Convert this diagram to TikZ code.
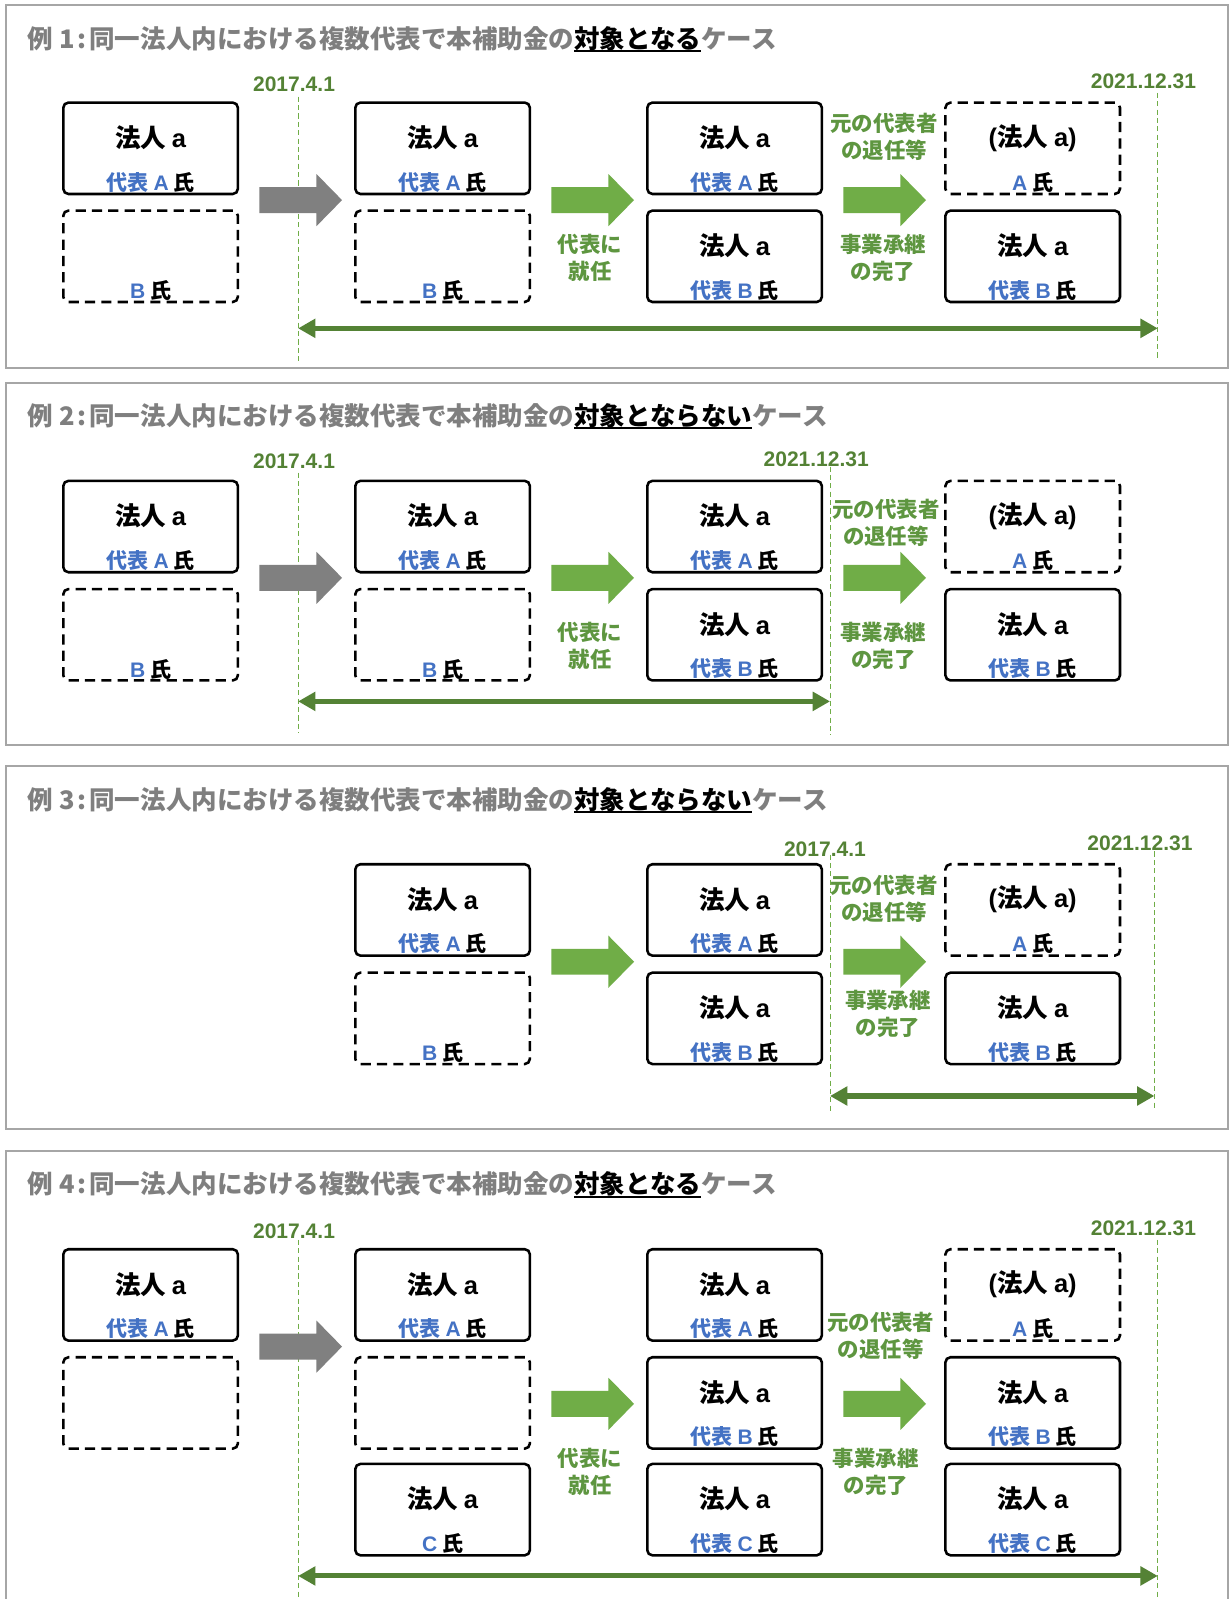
\documentclass[tikz,border=0pt]{standalone}
\usepackage{fontspec}
\setmainfont{Noto Sans CJK JP}
\newfontfamily\lat{Liberation Sans}
\usetikzlibrary{arrows.meta}
\definecolor{tgray}{HTML}{7F7F7F}
\definecolor{agray}{HTML}{808080}
\definecolor{pgray}{HTML}{A6A6A6}
\definecolor{lgreen}{HTML}{70AD47}
\definecolor{dgreen}{HTML}{548235}
\definecolor{lblgreen}{HTML}{5E9640}
\definecolor{blu}{HTML}{4472C4}
\newcommand\hj{法人 {\lat a}}
\newcommand\pmain{{\lat (}法人 {\lat a)}}
\newcommand\repr[1]{\textcolor{blu}{代表 {\lat #1}} 氏}
\newcommand\pwho[1]{\textcolor{blu}{\lat #1} 氏}
\newcommand\ulk[1]{{\color{black}\setbox0=\hbox{#1}\rlap{\rule[-1.9pt]{\wd0}{1pt}}\box0}}
\newcommand\ex[1]{例 #1\hspace{0.12em}:\hspace{0.1em}}
\newcommand\corp[6]{%
  \node[#2] (#1) at (#3+85.5,#4+44.75) {};
  \node[maintxt] (#1m) at (#3+85.5,#4+34.5) {#5};
  \node[subtxt] (#1s) at (#3+85.5,#4+78) {#6};}
\newcommand\vac[4]{%
  \node[corpd] (#1) at (#2+85.5,#3+44.75) {};
  \node[subtxt] (#1s) at (#2+85.5,#3+78.5) {#4};}
\newcommand\vacant[3]{%
  \node[corpd] (#1) at (#2+85.5,#3+44.75) {};}
\newcommand\blockarrow[3]{%
  \fill[#1] (#2,#3) ++(0,-12.7) -- ++(56,0) -- ++(0,-12.8) -- ++(25,25.5) -- ++(-25,25.5) -- ++(0,-12.8) -- ++(-56,0) -- cycle;}
\begin{document}
\begin{tikzpicture}[x=0.5pt,y=-0.5pt,
  corp/.style={draw=black, line width=1.25pt, rounded corners=2.5pt, minimum width=85.5pt, minimum height=44.75pt, inner sep=0pt},
  corpd/.style={corp, dash pattern=on 5pt off 3pt},
  maintxt/.style={font=\fontsize{12.5pt}{15pt}\selectfont\bfseries, inner sep=0pt},
  subtxt/.style={font=\fontsize{10.3pt}{12pt}\selectfont\bfseries, inner sep=0pt},
  datetxt/.style={font=\lat\fontsize{10.3pt}{12pt}\selectfont\bfseries, text=dgreen, inner sep=0pt},
  lbl/.style={font=\fontsize{10.5pt}{13.2pt}\selectfont\bfseries, text=lblgreen, align=center, inner sep=0pt},
  vline/.style={draw=lgreen, line width=0.5pt, dash pattern=on 2.5pt off 1.6pt},
  spanarrow/.style={draw=dgreen, line width=2.5pt, {Triangle[length=8.5pt,width=9pt]}-{Triangle[length=8.5pt,width=9pt]}},
  panel/.style={draw=pgray, line width=1pt},
  title/.style={font=\fontsize{12.5pt}{15pt}\selectfont\bfseries, text=tgray, anchor=west, inner sep=0pt}]
\useasboundingbox (0,0) rectangle (1205.6,1566.2);
\fill[white] (0,0) rectangle (1205.6,1566.2);
% ---------- panels ----------
\draw[panel] (6,5) rectangle (1203,360);
\draw[panel] (6,375) rectangle (1203,730);
\draw[panel] (6,750) rectangle (1203,1106);
\draw[panel] (6,1127) rectangle (1203,1600);
% ---------- panel 1 ----------
\node[title] (t1) at (27,38.5) {\ex{1}同一法人内における複数代表で本補助金の\ulk{対象となる}ケース};
\node[datetxt] (p1d1) at (288,83) {2017.4.1};
\node[datetxt] (p1d2) at (1120,79.3) {2021.12.31};
\coordinate (p1v1t) at (292,94.7); \coordinate (p1v1b) at (292,356);
\coordinate (p1v2t) at (1134,91); \coordinate (p1v2b) at (1134,352);
\draw[vline] (p1v1t) -- (p1v1b);
\draw[vline] (p1v2t) -- (p1v2b);
\corp{p1c1a}{corp}{62}{100.5}{\hj}{\repr{A}}
\vac{p1c1b}{62}{206.3}{\pwho{B}}
\corp{p1c2a}{corp}{348}{100.5}{\hj}{\repr{A}}
\vac{p1c2b}{348}{206.3}{\pwho{B}}
\corp{p1c3a}{corp}{634}{100.5}{\hj}{\repr{A}}
\corp{p1c3b}{corp}{634}{206.3}{\hj}{\repr{B}}
\corp{p1c4a}{corpd}{926}{100.5}{\pmain}{\pwho{A}}
\corp{p1c4b}{corp}{926}{206.3}{\hj}{\repr{B}}
\blockarrow{agray}{254}{196}
\blockarrow{lgreen}{540}{196}
\blockarrow{lgreen}{826}{196}
\node[lbl] (p1l1) at (578,253) {代表に\\就任};
\node[lbl] (p1l2) at (866,134.3) {元の代表者\\の退任等};
\node[lbl] (p1l3) at (865,252.2) {事業承継\\の完了};
\coordinate (p1sa) at (292,321.6); \coordinate (p1sb) at (1134,321.6);
\draw[spanarrow] (p1sa) -- (p1sb);
% ---------- panel 2 ----------
\node[title] (t2) at (27,408) {\ex{2}同一法人内における複数代表で本補助金の\ulk{対象とならない}ケース};
\node[datetxt] (p2d1) at (288,452) {2017.4.1};
\node[datetxt] (p2d2) at (799.5,450) {2021.12.31};
\coordinate (p2v1t) at (292,463); \coordinate (p2v1b) at (292,718);
\coordinate (p2v2t) at (813,457); \coordinate (p2v2b) at (813,720);
\draw[vline] (p2v1t) -- (p2v1b);
\draw[vline] (p2v2t) -- (p2v2b);
\corp{p2c1a}{corp}{62}{471}{\hj}{\repr{A}}
\vac{p2c1b}{62}{577}{\pwho{B}}
\corp{p2c2a}{corp}{348}{471}{\hj}{\repr{A}}
\vac{p2c2b}{348}{577}{\pwho{B}}
\corp{p2c3a}{corp}{634}{471}{\hj}{\repr{A}}
\corp{p2c3b}{corp}{634}{577}{\hj}{\repr{B}}
\corp{p2c4a}{corpd}{926}{471}{\pmain}{\pwho{A}}
\corp{p2c4b}{corp}{926}{577}{\hj}{\repr{B}}
\blockarrow{agray}{254}{566}
\blockarrow{lgreen}{540}{566}
\blockarrow{lgreen}{826}{566}
\node[lbl] (p2l1) at (578,632.5) {代表に\\就任};
\node[lbl] (p2l2) at (867.8,512.5) {元の代表者\\の退任等};
\node[lbl] (p2l3) at (865.3,632.5) {事業承継\\の完了};
\coordinate (p2sa) at (292,687); \coordinate (p2sb) at (813,687);
\draw[spanarrow] (p2sa) -- (p2sb);
% ---------- panel 3 ----------
\node[title] (t3) at (27,783.6) {\ex{3}同一法人内における複数代表で本補助金の\ulk{対象とならない}ケース};
\node[datetxt] (p3d1) at (808,831.5) {2017.4.1};
\node[datetxt] (p3d2) at (1116.6,825.7) {2021.12.31};
\coordinate (p3v1t) at (813,837); \coordinate (p3v1b) at (813,1090);
\coordinate (p3v2t) at (1130.7,834); \coordinate (p3v2b) at (1130.7,1086);
\draw[vline] (p3v1t) -- (p3v1b);
\draw[vline] (p3v2t) -- (p3v2b);
\corp{p3c2a}{corp}{348}{846.5}{\hj}{\repr{A}}
\vac{p3c2b}{348}{952.7}{\pwho{B}}
\corp{p3c3a}{corp}{634}{846.5}{\hj}{\repr{A}}
\corp{p3c3b}{corp}{634}{952.7}{\hj}{\repr{B}}
\corp{p3c4a}{corpd}{926}{846.5}{\pmain}{\pwho{A}}
\corp{p3c4b}{corp}{926}{952.7}{\hj}{\repr{B}}
\blockarrow{lgreen}{540}{942}
\blockarrow{lgreen}{826}{942}
\node[lbl] (p3l2) at (866,880) {元の代表者\\の退任等};
\node[lbl] (p3l3) at (869.7,993.2) {事業承継\\の完了};
\coordinate (p3sa) at (813,1073.5); \coordinate (p3sb) at (1130.7,1073.5);
\draw[spanarrow] (p3sa) -- (p3sb);
% ---------- panel 4 ----------
\node[title] (t4) at (27,1160.6) {\ex{4}同一法人内における複数代表で本補助金の\ulk{対象となる}ケース};
\node[datetxt] (p4d1) at (288,1206.3) {2017.4.1};
\node[datetxt] (p4d2) at (1120,1203) {2021.12.31};
\coordinate (p4v1t) at (292,1214.5); \coordinate (p4v1b) at (292,1600);
\coordinate (p4v2t) at (1134,1214.5); \coordinate (p4v2b) at (1134,1600);
\draw[vline] (p4v1t) -- (p4v1b);
\draw[vline] (p4v2t) -- (p4v2b);
\corp{p4c1a}{corp}{62}{1223.6}{\hj}{\repr{A}}
\vacant{p4c1b}{62}{1329.4}
\corp{p4c2a}{corp}{348}{1223.6}{\hj}{\repr{A}}
\vacant{p4c2b}{348}{1329.4}
\corp{p4c2c}{corp}{348}{1433.9}{\hj}{\pwho{C}}
\corp{p4c3a}{corp}{634}{1223.6}{\hj}{\repr{A}}
\corp{p4c3b}{corp}{634}{1329.4}{\hj}{\repr{B}}
\corp{p4c3c}{corp}{634}{1433.9}{\hj}{\repr{C}}
\corp{p4c4a}{corpd}{926}{1223.6}{\pmain}{\pwho{A}}
\corp{p4c4b}{corp}{926}{1329.4}{\hj}{\repr{B}}
\corp{p4c4c}{corp}{926}{1433.9}{\hj}{\repr{C}}
\blockarrow{agray}{254}{1319}
\blockarrow{lgreen}{540}{1375}
\blockarrow{lgreen}{826}{1375}
\node[lbl] (p4l1) at (578,1441.8) {代表に\\就任};
\node[lbl] (p4l2) at (862.7,1308.3) {元の代表者\\の退任等};
\node[lbl] (p4l3) at (857.8,1441.9) {事業承継\\の完了};
\coordinate (p4sa) at (292,1543.6); \coordinate (p4sb) at (1134,1543.6);
\draw[spanarrow] (p4sa) -- (p4sb);
\end{tikzpicture}
\end{document}
